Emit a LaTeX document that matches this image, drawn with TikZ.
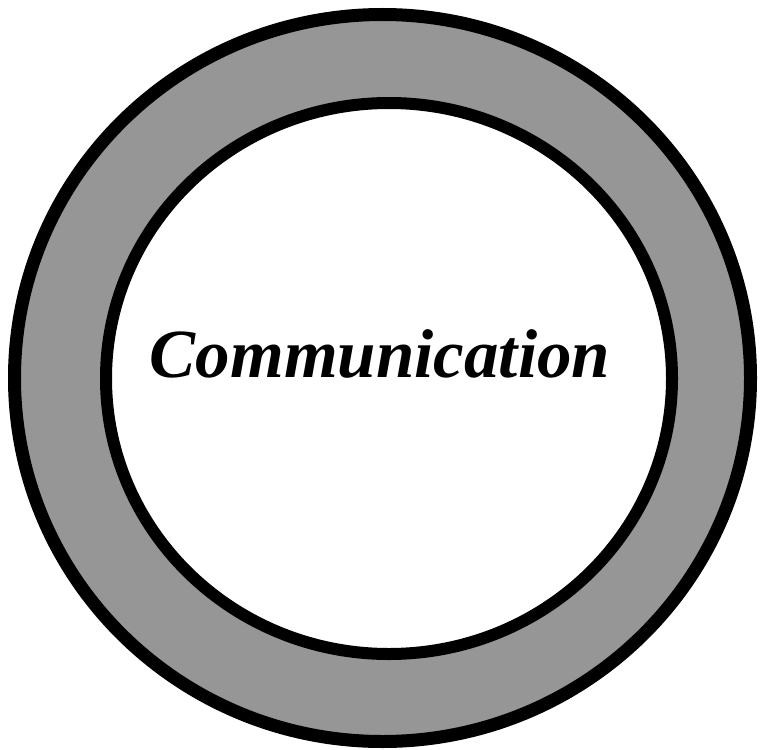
\documentclass[tikz,border=0pt]{standalone}
\usepackage{fontspec}
\setmainfont{Liberation Serif}
\usepackage{xcolor}
\definecolor{ringgray}{HTML}{969696}
\usepackage{tikz}
\usetikzlibrary{shapes.geometric, positioning}

\begin{document}
\begin{tikzpicture}[
  x=1pt, y=-1pt,
  ring/.style={ellipse, draw=black, fill=ringgray,
               line width=13pt, inner sep=0pt},
  hole/.style={ellipse, draw=black, fill=white,
               line width=12pt, inner sep=0pt},
  label/.style={font=\fontsize{69}{80}\selectfont\bfseries\itshape}
]
  \useasboundingbox (0,0) rectangle (762,749);
  \node[ring, minimum width=736pt, minimum height=727pt] (outer)
    at (382.5,378) {};
  \node[hole, minimum width=566pt, minimum height=551pt] (inner)
    at (389,378.5) {};
  \node[label, anchor=base] (comm) at (380,377) {Communication};
\end{tikzpicture}
\end{document}
